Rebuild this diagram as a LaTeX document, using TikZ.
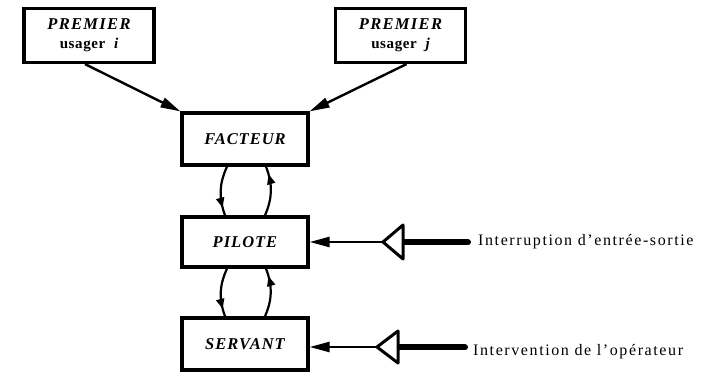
\documentclass[tikz,border=0pt]{standalone}
\usepackage{fontspec}
\setmainfont{Liberation Serif}
\usetikzlibrary{arrows.meta,decorations.markings}
\begin{document}
\begin{tikzpicture}[x=1pt,y=1pt,
  box/.style={draw,line width=3.2pt,minimum width=126pt,minimum height=52pt,inner sep=0pt,
    font=\fontsize{16.5}{18}\selectfont\itshape\bfseries},
  userbox/.style={box,minimum width=130pt,minimum height=54pt,align=center},
  link/.style={line width=2.4pt,-{Triangle[length=20pt,width=10pt]}},
  loop/.style={line width=2.2pt,postaction={decorate},
    decoration={markings,mark=at position 0.84 with {\arrow{Triangle[length=10pt,width=8pt]}}}},
  hollow/.style={draw,line width=3pt,fill=white,line join=round},
  shaft/.style={line width=6pt,line cap=round},
  lbl/.style={anchor=west,inner sep=0pt,font=\fontsize{16}{18}\selectfont\addfontfeature{LetterSpace=10}}]
\useasboundingbox (0,0) rectangle (710,372);

% users
\node[userbox] (pi) at (89,336.5) {\addfontfeature{LetterSpace=8}PREMIER\\[1pt]{\upshape\fontsize{15}{17}\selectfont\addfontfeature{LetterSpace=4}usager\ \ \itshape i}};
\node[userbox] (pj) at (400.5,336.5) {\addfontfeature{LetterSpace=8}PREMIER\\[1pt]{\upshape\fontsize{15}{17}\selectfont\addfontfeature{LetterSpace=4}usager\ \ \itshape j}};

% layers
\node[box] (fac) at (245,233) {\addfontfeature{LetterSpace=6}FACTEUR};
\node[box,minimum height=50pt] (pil) at (245,130) {\addfontfeature{LetterSpace=6}PILOTE};
\node[box] (ser) at (245,28) {\addfontfeature{LetterSpace=6}SERVANT};

% users to facteur
\draw[link] ([xshift=-4pt]pi.south) -- (fac.north west);
\draw[link] ([xshift=6pt]pj.south) -- (fac.north east);

% two-way exchanges between layers
\draw[loop] ([xshift=-18pt]fac.south) to[bend right=22] ([xshift=-20pt]pil.north);
\draw[loop] ([xshift=20pt]pil.north) to[bend right=22] ([xshift=21pt]fac.south);
\draw[loop] ([xshift=-18pt]pil.south) to[bend right=22] ([xshift=-20pt]ser.north);
\draw[loop] ([xshift=20pt]ser.north) to[bend right=22] ([xshift=21pt]pil.south);

% external signals
\coordinate (t1) at (383,130);
\coordinate (t2) at (377,25);
\draw[shaft] (402,129.5) -- (468,129.5);
\draw[hollow] (t1) -- (403,147) -- (403,113) -- cycle;
\draw[link] (t1) -- (pil.east);
\node[lbl] (l1) at (478,130) {Interruption d'entrée-sortie};

\draw[shaft] (397,24.5) -- (465,24.5);
\draw[hollow] (t2) -- (398,41) -- (398,9) -- cycle;
\draw[link] (t2) -- (t2 -| ser.east);
\node[lbl] (l2) at (473,20) {Intervention de l'opérateur};
\end{tikzpicture}
\end{document}
